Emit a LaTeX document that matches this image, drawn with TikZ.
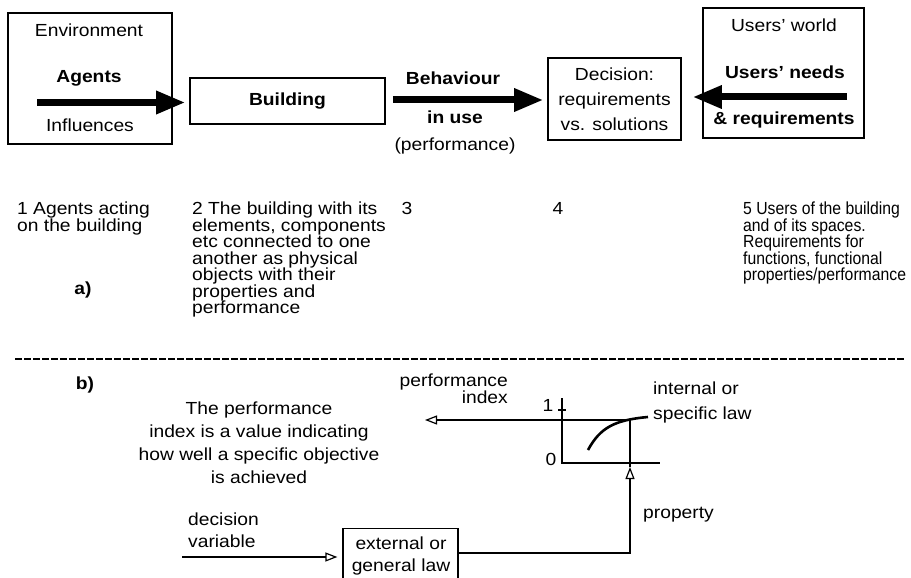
\documentclass[tikz,border=0pt]{standalone}
\usepackage{fontspec}
\setmainfont{Liberation Sans}[FakeStretch=1.1]
\newfontfamily\narrowfont{Liberation Sans}[FakeStretch=0.9]
\usetikzlibrary{arrows.meta}
\newcommand\txtsize[1]{\fontsize{17.5}{#1}\selectfont}
\begin{document}
\begin{tikzpicture}[x=1pt,y=-1pt,
  lbl/.style={inner sep=0pt, font=\txtsize{16.5}},
  blbl/.style={inner sep=0pt, font=\txtsize{16.5}\bfseries},
  frame/.style={draw, line width=1.6pt, inner sep=0pt},
  fat/.style={line width=7pt, -{Triangle[length=28pt,width=24pt,line width=0pt]}},
  wire/.style={line width=1.3pt},
  openhead/.style={wire, -{Triangle[open,length=12pt,width=9pt,line width=1.2pt]}},
]
\useasboundingbox (0,0) rectangle (911,578);
\fill[white] (0,0) rectangle (911,578);

% ---------- a) chain of boxes ----------
\node[frame, minimum width=164pt, minimum height=131pt] (env) at (90,78.5) {};
\node[lbl] (envT) at (89,30) {Environment};
\node[blbl] (agents) at (89,78) {Agents};
\node[lbl] (infl) at (90,125) {Influences};

\node[frame, blbl, minimum width=195pt, minimum height=46pt] (bld) at (287.5,101) {Building};

\node[frame, lbl, align=center, font=\txtsize{25}, minimum width=133pt, minimum height=82pt] (dec) at (614.5,99) {Decision:\\requirements\\vs. solutions};

\node[frame, minimum width=161pt, minimum height=130pt] (users) at (783.5,73) {};
\node[lbl] (usersT) at (784,25) {Users’ world};
\node[blbl] (needs) at (785,72) {Users’ needs};
\node[blbl] (reqs) at (784,120) {\& requirements};

\node[blbl] (beh) at (453,78) {Behaviour};
\node[blbl] (inuse) at (455,117) {in use};
\node[lbl] (perfA) at (455,146) {(performance)};

% fat arrows
\coordinate (agStart) at (37,102.5);
\coordinate (behY) at (0,100);
\coordinate (usStart) at (847,97);
\draw[fat, shorten >=5pt] (agStart) -- (bld.west |- agStart);
\draw[fat, shorten <=7pt, shorten >=5pt] (bld.east |- behY) -- (dec.west |- behY);
\draw[fat, shorten >=12pt] (usStart) -- (dec.east |- usStart);

% captions
\node[lbl, align=left, anchor=north west] (c1) at (17,202) {1 Agents acting\\on the building};
\node[lbl, align=left, anchor=north west] (c2) at (192,202) {2 The building with its\\elements, components\\etc connected to one\\another as physical\\objects with their\\properties and\\performance};
\node[lbl] (c3) at (407,208) {3};
\node[lbl] (c4) at (558,208) {4};
\node[lbl, font=\txtsize{16.5}\narrowfont, align=left, anchor=north west] (c5) at (743,202) {5 Users of the building\\and of its spaces.\\Requirements for\\functions, functional\\properties/performance};
\node[blbl] (la) at (83,290) {a)};

% separator
\coordinate (sepL) at (15,359);
\coordinate (sepR) at (905,359);
\draw[line width=2pt, dash pattern=on 6.5pt off 2.5pt] (sepL) -- (sepR);

% ---------- b) performance index ----------
\node[blbl] (lb) at (85,385) {b)};
\node[lbl, font=\txtsize{23}, align=center, anchor=north] (expl) at (259,402) {The performance\\index is a value indicating\\how well a specific objective\\is achieved};
\node[lbl, font=\txtsize{17}, align=right, anchor=north east] (pidx) at (508,374) {performance\\index};
\node[lbl, font=\txtsize{25}, align=left, anchor=north west] (intlaw) at (653,382) {internal or\\specific law};
\node[lbl, anchor=base west] (prop) at (643,518) {property};
\node[lbl, font=\txtsize{22}, align=left, anchor=north west] (dvar) at (188,513) {decision\\variable};

\node[frame, line width=1.3pt, minimum width=115pt, minimum height=56pt, anchor=north] (extlaw) at (400.5,528) {};
\node[lbl, font=\txtsize{22}, align=center] (extT) at (401,556) {external or\\general law};

% graph of the internal law
\coordinate (axTop) at (562,398);
\coordinate (axO) at (562,463);
\coordinate (axR) at (660,463);
\draw[wire] (axTop) -- (axO) -- (axR);
\draw[wire] (558,410) -- (566,410);
\node[lbl] (one) at (548,405) {1};
\node[lbl] (zero) at (551,459) {0};
\draw[line width=2.6pt] (588,450) .. controls (600,428) and (614,420) .. (648,417);

% signal path
\coordinate (dvStart) at (182,557);
\coordinate (propY) at (0,553);
\coordinate (propTip) at (630,467);
\coordinate (lawOut) at (630,420);
\coordinate (idxEnd) at (425,420);
\draw[openhead, shorten >=5pt] (dvStart) -- (extlaw.west |- dvStart);
\draw[openhead] (extlaw.east |- propY) -| (propTip);
\draw[wire] (propTip) -- (lawOut);
\draw[openhead] (lawOut) -- (idxEnd);
\end{tikzpicture}
\end{document}
